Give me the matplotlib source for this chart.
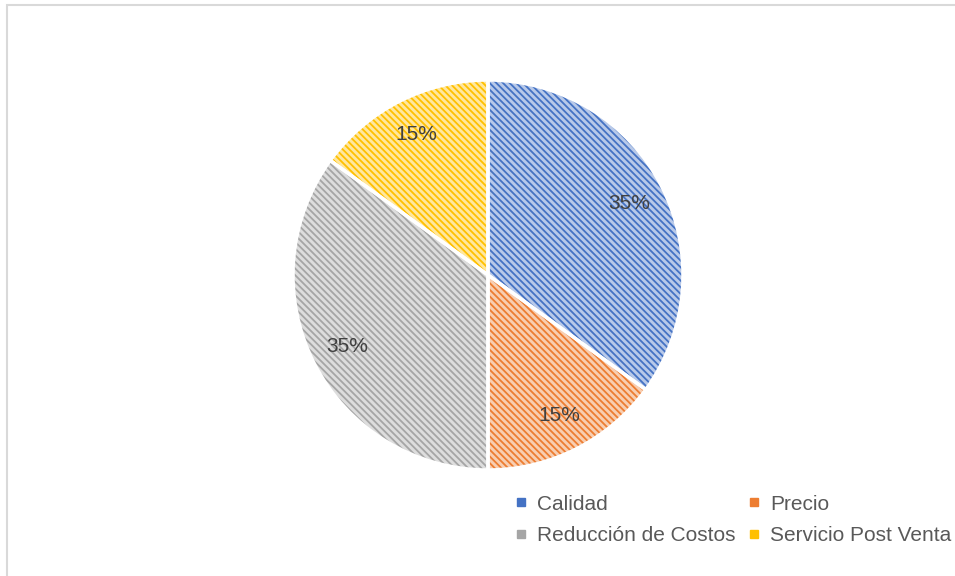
import matplotlib.pyplot as plt
from matplotlib.lines import Line2D
from matplotlib.patches import Rectangle
from matplotlib.colors import to_rgb

labels = ['Calidad', 'Precio', 'Reducción de Costos', 'Servicio Post Venta']
values = [35, 15, 35, 15]
colors = ['#4472C4', '#ED7D31', '#A5A5A5', '#FFC000']

plt.rcParams['font.family'] = ['Liberation Sans', 'DejaVu Sans']
plt.rcParams['hatch.linewidth'] = 1.3


def lighten(c, f=0.62):
    r, g, b = to_rgb(c)
    return (r + (1 - r) * f, g + (1 - g) * f, b + (1 - b) * f)


fig = plt.figure(figsize=(9.55, 5.76), dpi=100)

# light grey chart frame
fig.patches.append(Rectangle((7 / 955, -0.1), 1.1, (576 - 5) / 576 + 0.1,
                             transform=fig.transFigure, fill=False,
                             edgecolor='#D9D9D9', linewidth=1.5))

ax = fig.add_axes([(488 - 195) / 955, (576 - 275 - 195) / 576, 390 / 955, 390 / 576])

# base fill
ax.pie(values, colors=[lighten(c) for c in colors], startangle=90,
       counterclock=False, wedgeprops=dict(linewidth=0))
# diagonal hatch in the full colour
hatched, _ = ax.pie(values, colors=['none'] * 4, startangle=90, counterclock=False,
                    wedgeprops=dict(linewidth=0))
for w, c in zip(hatched, colors):
    w.set_edgecolor(c)
    w.set_hatch('\\\\\\\\\\')
    w.set_linewidth(0)
# white separators and percentages
wedges, texts, autotexts = ax.pie(values, colors=['none'] * 4, startangle=90,
                                  counterclock=False, autopct='%1.0f%%',
                                  pctdistance=0.81,
                                  wedgeprops=dict(edgecolor='white', linewidth=2.5),
                                  textprops=dict(color='#404040', fontsize=15))
ax.set_xlim(-1, 1)
ax.set_ylim(-1, 1)
ax.set_aspect('equal')

# legend fills row by row: Calidad, Precio / Reducción, Servicio
order = [0, 2, 1, 3]
handles = [Line2D([], [], marker='s', linestyle='none', markersize=6,
                  markerfacecolor=colors[i], markeredgecolor=colors[i]) for i in order]
leg = fig.legend(handles, [labels[i] for i in order], ncol=2, loc='center',
                 bbox_to_anchor=(733 / 955, 1 - 520 / 576), frameon=False,
                 fontsize=15, handlelength=0.6, handletextpad=0.45,
                 columnspacing=0.6, labelspacing=0.6)
for t in leg.get_texts():
    t.set_color('#595959')

fig.savefig('out.png', dpi=100)
